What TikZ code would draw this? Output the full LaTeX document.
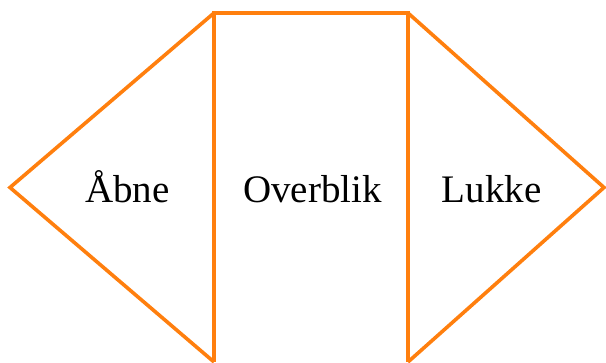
\documentclass[tikz,border=0pt]{standalone}
\usepackage{fontspec}
\setmainfont{Liberation Serif}
\definecolor{framecol}{HTML}{FF7F0E}
\tikzset{
  frame/.style={draw=framecol, line width=3.6pt, line join=miter},
  lbl/.style={anchor=base, inner sep=0pt, font=\fontsize{39}{42}\selectfont}
}
\begin{document}
\begin{tikzpicture}[x=1pt, y=-1pt]
  \useasboundingbox (0,0) rectangle (606,363);
  \begin{scope}
    \clip (0,0) rectangle (606,363);
    % corner points of the three panels
    \coordinate (tl) at (214,13);
    \coordinate (tr) at (408,13);
    \coordinate (bl) at (214,362);
    \coordinate (br) at (408,362);
    \coordinate (pl) at (10,187.5);
    \coordinate (pr) at (604,187.5);
    % left arrow head, middle rectangle, right arrow head
    \draw[frame] (bl) -- (pl) -- (tl);
    \draw[frame] (bl) -- (tl) -- (tr) -- (br);
    \draw[frame] (tr) -- (pr) -- (br);
  \end{scope}
  \node[lbl] (open) at (127.5,203) {Åbne};
  \node[lbl] (overview) at (312.5,203) {Overblik};
  \node[lbl] (close) at (491.5,203) {Lukke};
\end{tikzpicture}
\end{document}
